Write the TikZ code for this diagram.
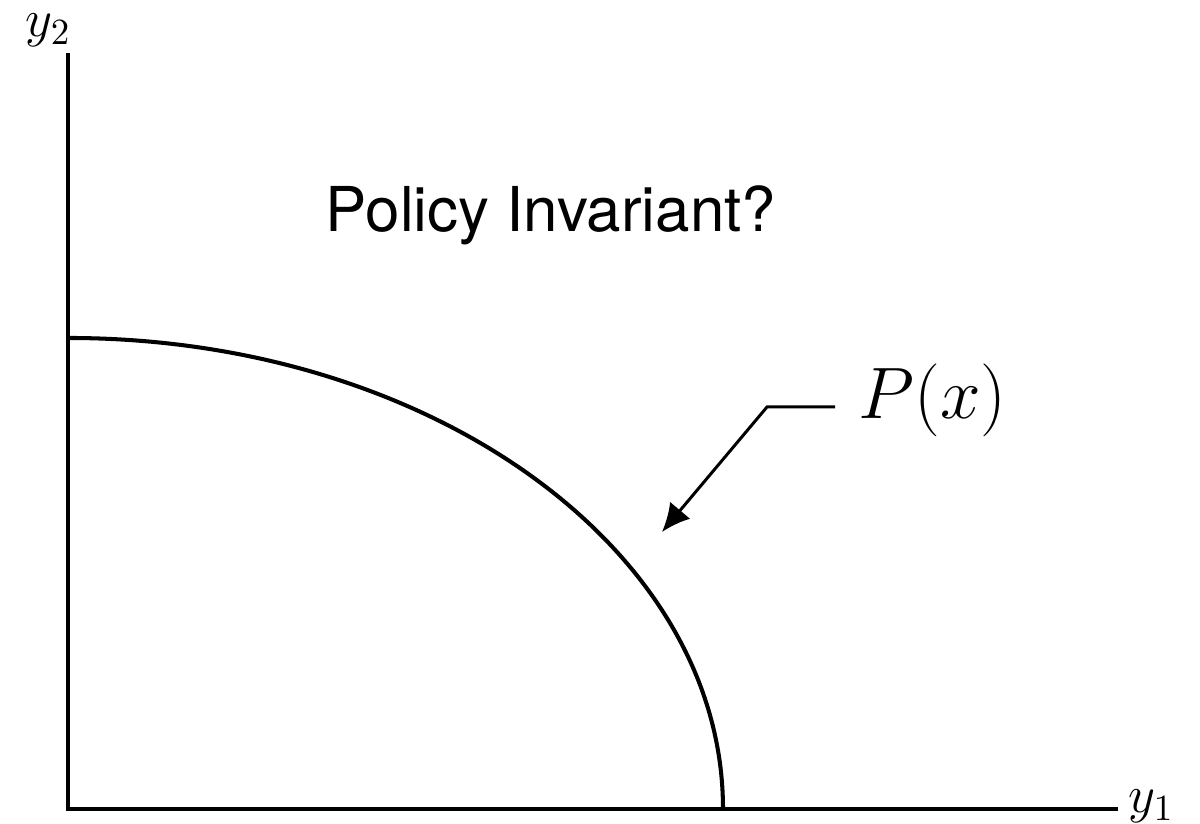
\RequirePackage{fix-cm}
\documentclass[tikz,border=0pt]{standalone}
\usepackage{fontspec}
\newfontfamily\heros{TeX Gyre Heros}
\usetikzlibrary{arrows.meta}
\tikzset{
  axisline/.style={line width=1.4pt},
  frontier/.style={line width=1.15pt},
  pointer/.style={line width=0.85pt, -{Latex[length=8pt,width=7.5pt]}},
  axislabel/.style={inner sep=0pt, anchor=base west, font=\fontsize{15}{18}\selectfont},
}
\begin{document}
\begin{tikzpicture}
\useasboundingbox (0,0) rectangle (12,8.24);
% axes
\coordinate (O) at (0.68,0.15);
\coordinate (ytop) at (0.68,7.71);
\coordinate (xend) at (11.18,0.15);
\draw[axisline] (ytop) -- (O) -- (xend);
\node[axislabel] (y2) at (0.25,7.87) {$y_2$};
\node[axislabel] (y1) at (11.28,0.11) {$y_1$};
% frontier
\coordinate (ctop) at (0.68,4.86);
\draw[frontier] (ctop) arc[start angle=90, end angle=0, x radius=6.55, y radius=4.71];
% title
\node[inner sep=0pt, anchor=base, font=\heros\fontsize{17.6}{21}\selectfont] (title) at (5.51,5.92) {Policy Invariant?};
% P(x) label and pointer
\node[inner sep=0pt, anchor=base west, font=\fontsize{20.74}{24}\selectfont] (Plab) at (8.58,4.05) {$P(x)$};
\coordinate (pstart) at (8.35,4.17);
\coordinate (pbend) at (7.67,4.17);
\coordinate (ptip) at (6.62,2.92);
\draw[pointer] (pstart) -- (pbend) -- (ptip);
\end{tikzpicture}
\end{document}
